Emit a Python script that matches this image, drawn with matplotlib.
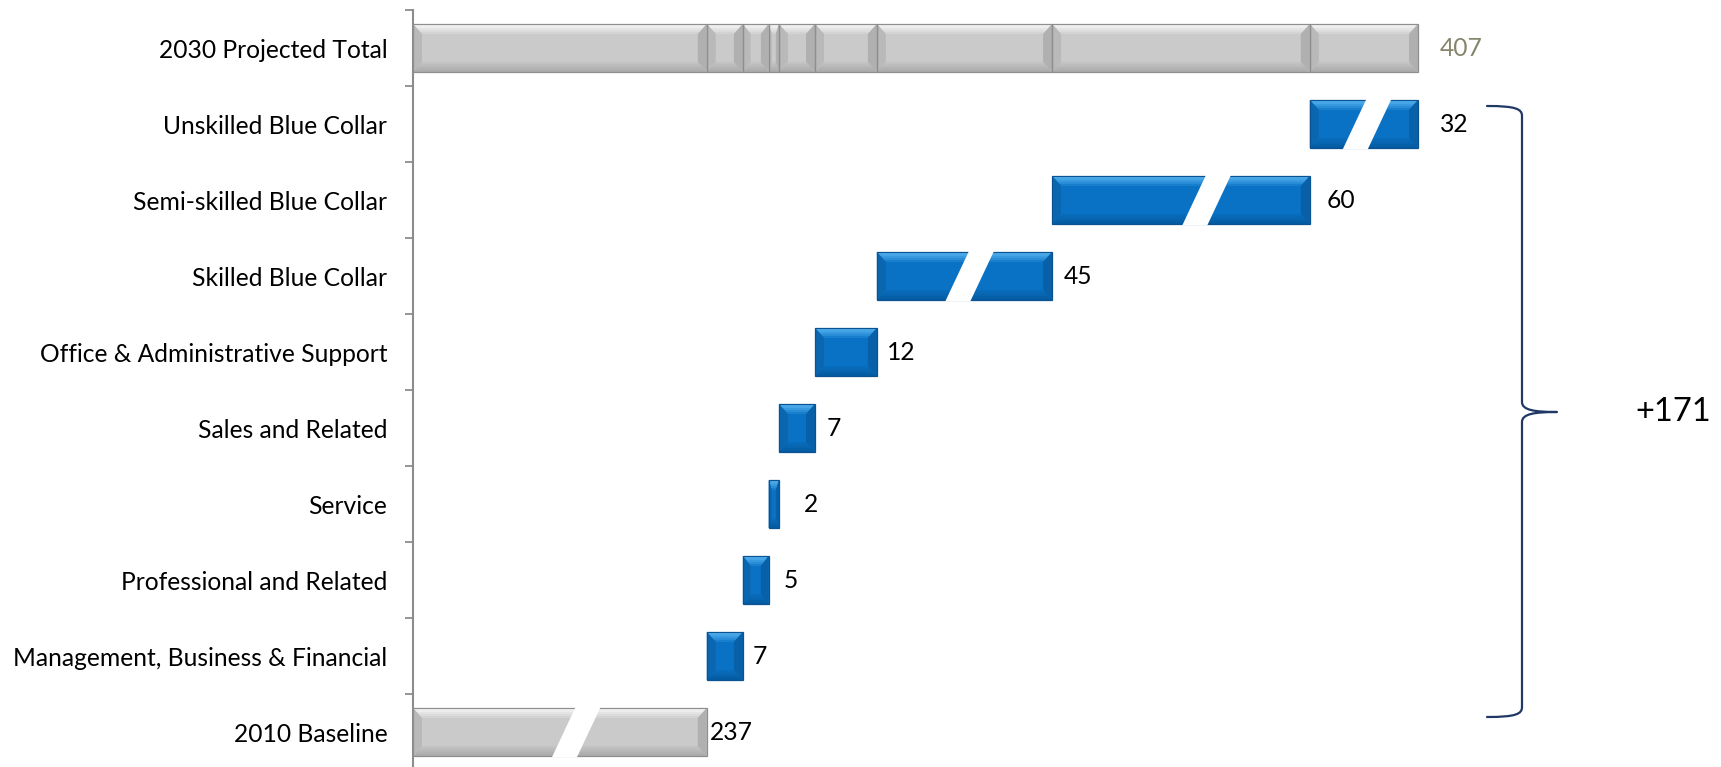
import matplotlib
matplotlib.use('Agg')
import matplotlib.pyplot as plt
from matplotlib.patches import Polygon, PathPatch
from matplotlib.path import Path
import matplotlib.colors as mcolors
import numpy as np

plt.rcParams['font.family'] = ['Lato', 'DejaVu Sans']

# ---------------- data ----------------
categories = ["2010 Baseline", "Management, Business & Financial",
              "Professional and Related", "Service", "Sales and Related",
              "Office & Administrative Support", "Skilled Blue Collar",
              "Semi-skilled Blue Collar", "Unskilled Blue Collar",
              "2030 Projected Total"]
values = [237, 7, 5, 2, 7, 12, 45, 60, 32]          # baseline + increments
total_value = 407
shown_lengths = [57, 7, 5, 2, 7, 12, 34, 50, 21]    # drawn lengths (broken scale)
broken = [True, False, False, False, False, False, True, True, True]
bracket_label = "+171"

# ---------------- style ----------------
W, H = 1721, 767
PX = 5.154          # pixels per data unit (x)
ROW = 76.0          # pixels per category row
label_gap_px = [3, 10, 15, 25, 12, 10, 12, 17, 22]
total_gap_px = 22
break_frac = [0.556, 0, 0, 0, 0, 0, 0.53, 0.60, 0.53]
FS = 17.7

BLUE = dict(face='#0A72C4', top='#5BB8F4', bot='#055A9F', left='#0B66B0',
            right='#0860A8', edge='#0B5290')
GRAY = dict(face='#CACACA', top='#FAFAFA', bot='#A9A9A9', left='#B9B9B9',
            right='#B0B0B0', edge='#8E8E8E')

fig = plt.figure(figsize=(W / 100, H / 100), dpi=100)
ax = fig.add_axes([413 / W, (H - 770) / H, (W - 413) / W, 760 / H])
ax.set_xlim(0, (W - 413) / PX)
ax.set_ylim(-0.5, 9.5)


def dx(px):
    return px / PX


def dy(px):
    return px / ROW


BAR_H = dy(48)


def mix(c1, c2, t):
    a = np.array(mcolors.to_rgb(c1))
    b = np.array(mcolors.to_rgb(c2))
    return tuple(a * (1 - t) + b * t)


def bevel_bar(x0, x1, yc, c, z=3):
    y0, y1 = yc - BAR_H / 2, yc + BAR_H / 2
    bx = min(dx(9), (x1 - x0) * 0.3)
    bt = dy(10)
    bb = dy(10)
    ix0, ix1 = x0 + bx, x1 - bx
    iy0, iy1 = y0 + bb, y1 - bt
    ax.add_patch(Polygon([(x0, y0), (x1, y0), (x1, y1), (x0, y1)], closed=True,
                         facecolor=c['face'], edgecolor='none', zorder=z))
    n = 5
    for k in range(n):
        t0, t1 = k / n, (k + 1) / n
        ya, yb = y1 - t0 * bt, y1 - t1 * bt
        xa0, xa1 = x0 + t0 * bx, x1 - t0 * bx
        xb0, xb1 = x0 + t1 * bx, x1 - t1 * bx
        col = mix(c['top'], c['face'], (k + 0.5) / n * 0.9)
        ax.add_patch(Polygon([(xa0, ya), (xa1, ya), (xb1, yb), (xb0, yb)], closed=True,
                             facecolor=col, edgecolor='none', zorder=z + 0.05))
    for k in range(n):
        t0, t1 = k / n, (k + 1) / n
        ya, yb = y0 + t0 * bb, y0 + t1 * bb
        xa0, xa1 = x0 + t0 * bx, x1 - t0 * bx
        xb0, xb1 = x0 + t1 * bx, x1 - t1 * bx
        col = mix(c['bot'], c['face'], (k + 0.5) / n * 0.85)
        ax.add_patch(Polygon([(xa0, ya), (xa1, ya), (xb1, yb), (xb0, yb)], closed=True,
                             facecolor=col, edgecolor='none', zorder=z + 0.05))
    ax.add_patch(Polygon([(x0, y0), (ix0, iy0), (ix0, iy1), (x0, y1)], closed=True,
                         facecolor=c['left'], edgecolor='none', zorder=z + 0.06))
    ax.add_patch(Polygon([(x1, y0), (ix1, iy0), (ix1, iy1), (x1, y1)], closed=True,
                         facecolor=c['right'], edgecolor='none', zorder=z + 0.06))
    ax.add_patch(Polygon([(x0, y0), (x1, y0), (x1, y1), (x0, y1)], closed=True,
                         facecolor='none', edgecolor=c['edge'], linewidth=0.9, zorder=z + 0.2))


def slash(xc, yc):
    y0, y1 = yc - BAR_H / 2 - dy(1.5), yc + BAR_H / 2 + dy(1.5)
    gw = dx(12.5)
    s = dx(24)
    pts = [(xc - gw - s / 2, y0), (xc + gw - s / 2, y0),
           (xc + gw + s / 2, y1), (xc - gw + s / 2, y1)]
    ax.add_patch(Polygon(pts, closed=True, facecolor='white', edgecolor='none', zorder=5))


starts = np.concatenate([[0], np.cumsum(shown_lengths)[:-1]])
ends = np.cumsum(shown_lengths)

for i, (v, s0, L) in enumerate(zip(values, starts, shown_lengths)):
    c = GRAY if i == 0 else BLUE
    bevel_bar(s0, s0 + L, i, c)
    if broken[i]:
        slash(s0 + break_frac[i] * L, i)
    ax.text(s0 + L + dx(label_gap_px[i]), i, str(v), ha='left', va='center',
            fontsize=FS, color='black', zorder=6)

# total bar: segmented
ytot = len(values)
for s0, e0 in zip(starts, ends):
    bevel_bar(s0, e0, ytot, GRAY)
ax.text(ends[-1] + dx(total_gap_px), ytot, str(total_value), ha='left', va='center',
        fontsize=FS, color='#85856B', zorder=6)

# bracket
xl, xv, xt = dx(1487 - 413), dx(1522 - 413), dx(1557 - 413)
ytop, ymid, ybot = 9 - (106 - 48) / ROW, 9 - (412 - 48) / ROW, 9 - (717 - 48) / ROW
r = dy(10)
verts = [(xl, ytop), (xv - dx(6), ytop), (xv, ytop - dy(3)), (xv, ytop - r),
         (xv, ymid + r),
         (xv, ymid + dy(2)), (xv + dx(12), ymid), (xt, ymid),
         (xv + dx(12), ymid), (xv, ymid - dy(2)), (xv, ymid - r),
         (xv, ybot + r),
         (xv, ybot + dy(3)), (xv - dx(6), ybot), (xl, ybot)]
codes = [Path.MOVETO, Path.CURVE4, Path.CURVE4, Path.CURVE4,
         Path.LINETO,
         Path.CURVE4, Path.CURVE4, Path.CURVE4,
         Path.CURVE4, Path.CURVE4, Path.CURVE4,
         Path.LINETO,
         Path.CURVE4, Path.CURVE4, Path.CURVE4]
ax.add_patch(PathPatch(Path(verts, codes), facecolor='none', edgecolor='#1F3864',
                       linewidth=1.6, capstyle='round', joinstyle='round', zorder=4,
                       clip_on=False))
ax.text(dx(1635 - 413), ymid, bracket_label, ha='left', va='center', fontsize=23.5,
        color='black')

# axes styling
ax.set_yticks(range(len(categories)))
ax.set_yticklabels(categories, fontsize=FS)
ax.set_yticks(np.arange(-0.5, len(categories), 1.0), minor=True)
ax.tick_params(axis='y', which='major', length=0, pad=18.5)
ax.tick_params(axis='y', which='minor', length=5.8, width=1.3, color='#8C8C8C', direction='out')
ax.set_xticks([])
for sp in ['top', 'right', 'bottom']:
    ax.spines[sp].set_visible(False)
ax.spines['left'].set_color('#8C8C8C')
ax.spines['left'].set_linewidth(1.5)
ax.patch.set_visible(False)

fig.savefig('out.png', dpi=100)
